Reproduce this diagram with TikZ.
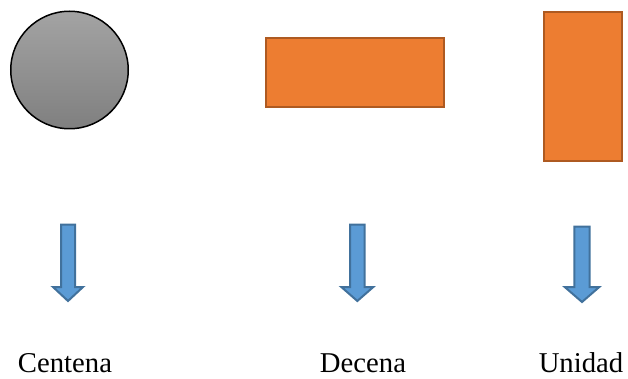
\documentclass[tikz,border=0pt]{standalone}
\usepackage{fontspec}
\setmainfont{Liberation Serif}
\usetikzlibrary{positioning}
\definecolor{naranja}{HTML}{ED7D31}
\definecolor{naranjaborde}{HTML}{AE5A21}
\definecolor{azul}{HTML}{5B9BD5}
\definecolor{azulborde}{HTML}{41719C}

\begin{document}
\begin{tikzpicture}[x=1pt, y=-1pt,
            line join=miter,  % Esquinas vivas
            bloque/.style={fill=naranja, draw=naranjaborde, line width=2pt, inner sep=0pt},
            flecha/.style={fill=azul, draw=azulborde, line width=2pt},
            etiqueta/.style={font=\fontsize{28.7}{34}\selectfont, anchor=base, inner sep=0pt}
        ]
        \useasboundingbox (0,0) rectangle (628,379);

        % (1) El círculo gris
        \node[circle, minimum size=117.5pt, inner sep=0pt, draw=black, line width=1.5pt,
              top color=black!36, bottom color=black!50] (circulo) at (69.5,70) {};

        % (2) Los dos rectángulos naranjas
        \node[bloque, minimum width=178pt, minimum height=69pt] (horizontal) at (355,72.5) {};
        \node[bloque, minimum width=78.6pt, minimum height=149pt] (vertical) at (583,86.5) {};

        % (3) Las flechas azules hacia abajo
        \foreach \cx/\sw/\hw/\top/\tip in {68/7/15/224.5/301, 357.3/7.3/16/224.5/301, 582/7.7/17.3/226.5/302} {
            \draw[flecha] (\cx-\sw,\top) -- (\cx+\sw,\top) -- (\cx+\sw,287) -- (\cx+\hw,287)
                -- (\cx,\tip) -- (\cx-\hw,287) -- (\cx-\sw,287) -- cycle;
        }

        % (4) Las etiquetas
        \node[etiqueta] (centena) at (65,372) {Centena};
        \node[etiqueta] (decena) at (363,372) {Decena};
        \node[etiqueta] (unidad) at (581,372) {Unidad};
\end{tikzpicture}
\end{document}
